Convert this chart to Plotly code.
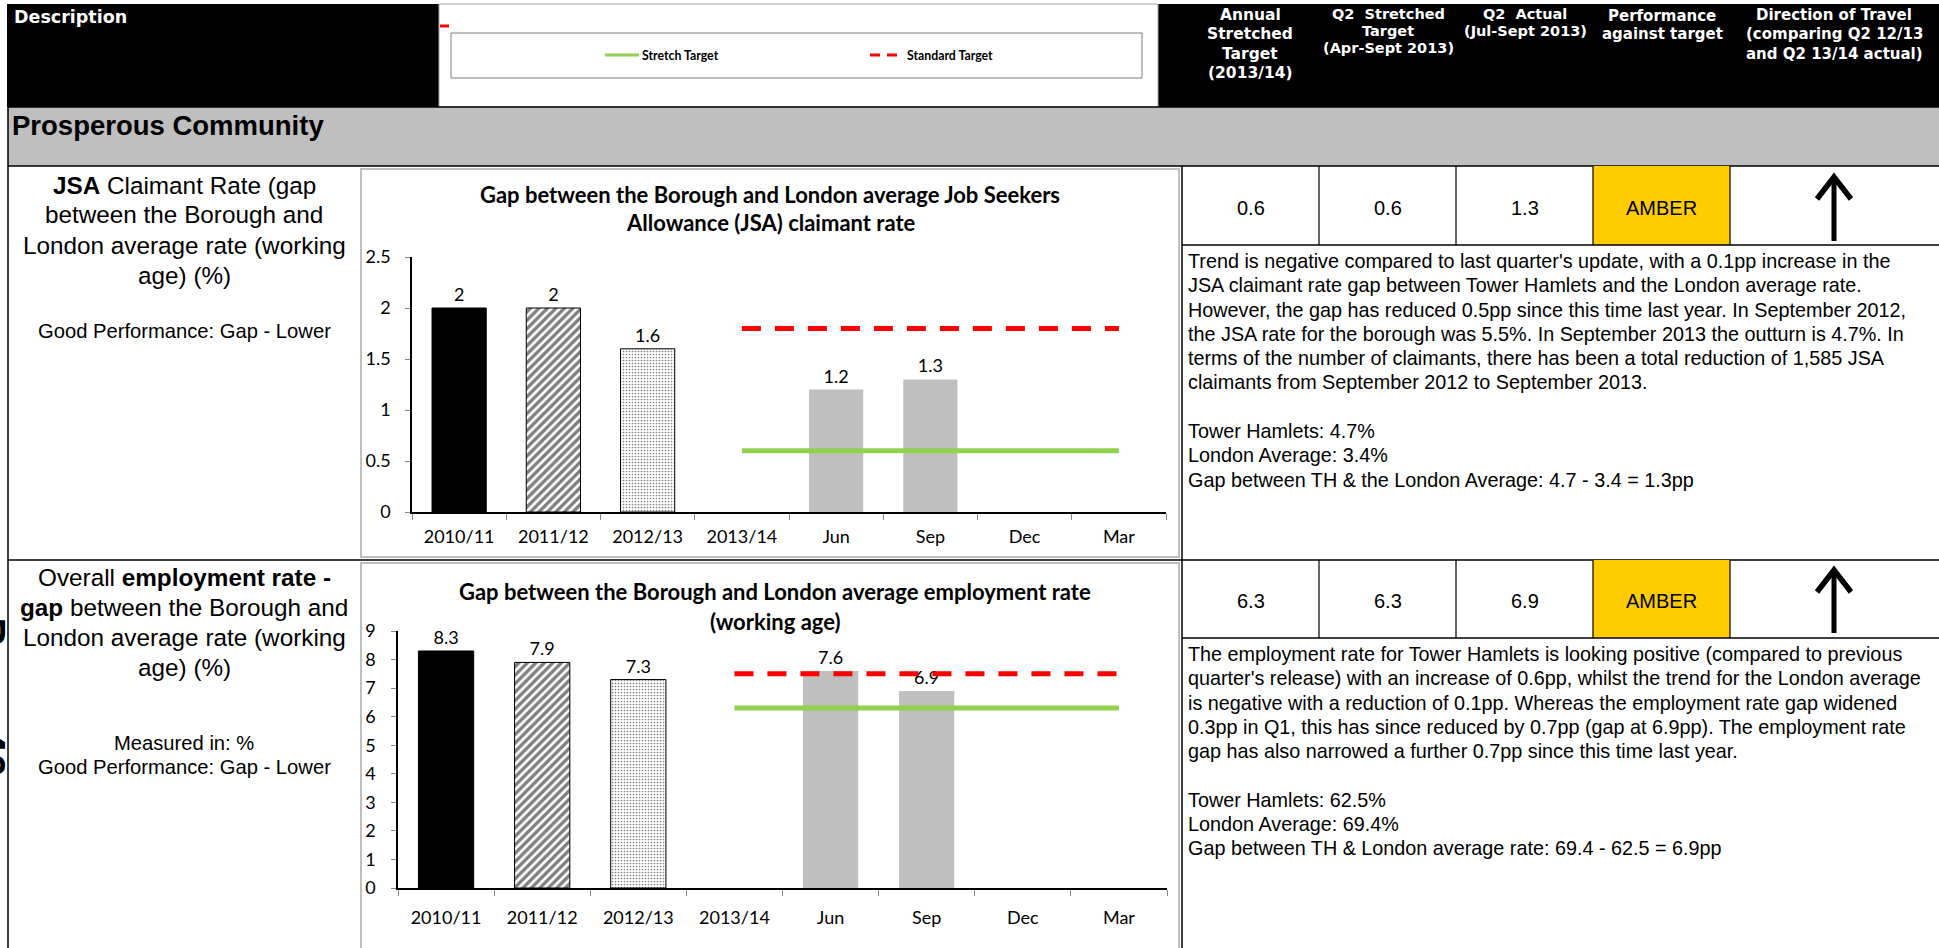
import plotly.graph_objects as go

W, H = 1939, 948

# ---------------------------------------------------------------- data
categories = ["2010/11", "2011/12", "2012/13", "2013/14", "Jun", "Sep", "Dec", "Mar"]

jsa_gap = [2, 2, 1.6, None, 1.2, 1.3, None, None]
jsa_stretch = [None, None, None, 0.6, 0.6, 0.6, 0.6, 0.6]
jsa_standard = [None, None, None, 1.8, 1.8, 1.8, 1.8, 1.8]

emp_gap = [8.3, 7.9, 7.3, None, 7.6, 6.9, None, None]
emp_stretch = [None, None, None, 6.3, 6.3, 6.3, 6.3, 6.3]
emp_standard = [None, None, None, 7.5, 7.5, 7.5, 7.5, 7.5]

jsa_title = ["Gap between the Borough and London average Job Seekers",
             "Allowance (JSA) claimant rate"]
emp_title = ["Gap between the Borough and London average employment rate",
             "(working age)"]

header_cols = [
    ["Annual", "Stretched", "Target", "(2013/14)"],
    ["Q2  Stretched", "Target", "(Apr-Sept 2013)"],
    ["Q2  Actual", "(Jul-Sept 2013)"],
    ["Performance", "against target"],
    ["Direction of Travel", "(comparing Q2 12/13", "and Q2 13/14 actual)"],
]

jsa_row = ["0.6", "0.6", "1.3", "AMBER"]
emp_row = ["6.3", "6.3", "6.9", "AMBER"]

jsa_desc = ["<b>JSA</b> Claimant Rate (gap", "between the Borough and",
            "London average rate (working", "age) (%)"]
jsa_desc_small = ["Good Performance: Gap - Lower"]
emp_desc = ["Overall <b>employment rate -</b>", "<b>gap</b> between the Borough and",
            "London average rate (working", "age) (%)"]
emp_desc_small = ["Measured in: %", "Good Performance: Gap - Lower"]

jsa_notes = [
    "Trend is negative compared to last quarter's update, with a 0.1pp increase in the",
    "JSA claimant rate gap between Tower Hamlets and the London average rate.",
    "However, the gap has reduced 0.5pp since this time last year. In September 2012,",
    "the JSA rate for the borough was 5.5%. In September 2013 the outturn is 4.7%. In",
    "terms of the number of claimants, there has been a total reduction of 1,585 JSA",
    "claimants from September 2012 to September 2013.",
    "",
    "Tower Hamlets: 4.7%",
    "London Average: 3.4%",
    "Gap between TH &amp; the London Average: 4.7 - 3.4 = 1.3pp",
]
emp_notes = [
    "The employment rate for Tower Hamlets is looking positive (compared to previous",
    "quarter's release) with an increase of 0.6pp, whilst the trend for the London average",
    "is negative with a reduction of 0.1pp. Whereas the employment rate gap widened",
    "0.3pp in Q1, this has since reduced by 0.7pp (gap at 6.9pp). The employment rate",
    "gap has also narrowed a further 0.7pp since this time last year.",
    "",
    "Tower Hamlets: 62.5%",
    "London Average: 69.4%",
    "Gap between TH &amp; London average rate: 69.4 - 62.5 = 6.9pp",
]

# ---------------------------------------------------------------- styling
ARIAL = "Liberation Sans, Arial, sans-serif"
VERDANA = "DejaVu Sans, Verdana, sans-serif"
CHART_FONT = "Lato, Calibri, sans-serif"

BLACK = "#000000"
GREY_BAND = "#BFBFBF"
AMBER = "#FFCC00"
GREEN = "#92D050"
RED = "#FF0000"

# one fill style per category: (colour, pattern shape, pattern size, solidity, outline)
SOLID_BLACK = ("#000000", "", 6, 0.3, "#000000")
HATCHED = ("#FFFFFF", "/", 6, 0.55, "#000000")
DOTTED = ("#FFFFFF", ".", 3, 0.25, "#000000")
QUARTER = ("#BFBFBF", "", 6, 0.3, None)
bar_styles = [SOLID_BLACK, HATCHED, DOTTED, QUARTER, QUARTER, QUARTER, QUARTER, QUARTER]


def X(px):
    return px / W


def Y(py):
    return 1 - py / H


shapes = []
annotations = []


def rect(x0, y0, x1, y1, fill=None, line=None, width=1):
    shapes.append(dict(type="rect", xref="paper", yref="paper",
                       x0=X(x0), x1=X(x1), y0=Y(y1), y1=Y(y0),
                       fillcolor=fill if fill else "rgba(0,0,0,0)",
                       line=dict(color=line if line else "rgba(0,0,0,0)",
                                 width=width if line else 0)))


def seg(x0, y0, x1, y1, color=BLACK, width=1.5, dash=None):
    ln = dict(color=color, width=width)
    if dash:
        ln["dash"] = dash
    shapes.append(dict(type="line", xref="paper", yref="paper",
                       x0=X(x0), x1=X(x1), y0=Y(y0), y1=Y(y1), line=ln))


def path(points, color=BLACK, width=6):
    d = "M " + " L ".join(f"{X(px):.6f},{Y(py):.6f}" for px, py in points)
    shapes.append(dict(type="path", xref="paper", yref="paper", path=d,
                       line=dict(color=color, width=width)))


def text(x, y, s, size, family=ARIAL, color=BLACK, anchor="center", bold=False, **kw):
    if bold:
        s = f"<b>{s}</b>"
    annotations.append(dict(xref="paper", yref="paper", x=X(x), y=Y(y), text=s,
                            showarrow=False, xanchor=anchor, yanchor="middle",
                            font=dict(size=size, family=family, color=color), **kw))


# ---------------------------------------------------------------- header band
rect(7, 4, 439, 107, fill=BLACK)
rect(1158, 4, W + 2, 107, fill=BLACK)
rect(439, 4, 1158, 107, fill="#FFFFFF", line="#A6A6A6", width=1)
text(12, 17, "Description", 17.5, family=VERDANA, color="#FFFFFF", anchor="left", bold=True)

# legend panel
rect(451, 33, 1142, 78, fill="#FFFFFF", line="#7F7F7F", width=1)
seg(440, 26, 449, 26, color=RED, width=3)
seg(605, 55, 639, 55, color=GREEN, width=3)
text(640, 55, "Stretch Target", 12.3, family=CHART_FONT, anchor="left", bold=True)
seg(870, 55, 880, 55, color=RED, width=3)
seg(887, 55, 897, 55, color=RED, width=3)
text(905, 55, "Standard Target", 12.3, family=CHART_FONT, anchor="left", bold=True)

# column headings
col_centers = [1250, 1388, 1525, 1662, 1834]
col_line_y = [
    [15, 34, 54, 73],
    [14, 31, 48],
    [14, 31],
    [16, 34],
    [15, 34, 54],
]
col_sizes = [15.5, 14.5, 14.5, 15, 15]
for lines, cx, ys, sz in zip(header_cols, col_centers, col_line_y, col_sizes):
    for ln, yy in zip(lines, ys):
        text(cx, yy, ln, sz, family=VERDANA, color="#FFFFFF", bold=True)

# section band
rect(8, 107, W + 2, 166, fill=GREY_BAND)
seg(8, 107, W, 107, width=1.5)
seg(8, 166, W, 166, width=1.5)
text(10, 125, "Prosperous Community", 27.5, anchor="left", bold=True)

# ---------------------------------------------------------------- table grid
seg(8, 107, 8, H + 2, width=1.5)
seg(1182, 166, 1182, H + 2, width=1.5)
seg(8, 560, W, 560, width=1.5)

col_edges = [1182, 1319, 1456, 1593, 1730, W]
for top, bot, row_vals in ((166, 245, jsa_row), (560, 638, emp_row)):
    rect(col_edges[3], top, col_edges[4], bot, fill=AMBER)
    seg(1182, bot, W, bot, width=1.5)
    for xe in col_edges[1:5]:
        seg(xe, top, xe, bot, width=1.2)
    for i, v in enumerate(row_vals):
        text((col_edges[i] + col_edges[i + 1]) / 2, (top + bot) / 2 + 2, v, 20)

# direction-of-travel arrows
for y_tip, y_base in ((175, 241), (568, 633)):
    seg(1834, y_base, 1834, y_tip + 4, width=5)
    path([(1817, y_tip + 24), (1834, y_tip + 2), (1851, y_tip + 24)], width=5.5)

# chart frames
rect(361, 169, 1179, 557, line="#BFBFBF", width=2)
rect(361, 563, 1179, H + 20, line="#BFBFBF", width=2)

# rotated page number partly off the left edge
annotations.append(dict(xref="paper", yref="paper", x=X(16), y=Y(697), text="<b>Page 46</b>",
                        textangle=90, showarrow=False, xanchor="right", yanchor="middle",
                        font=dict(size=42, family=ARIAL, color=BLACK)))

# ---------------------------------------------------------------- description column
for i, ln in enumerate(jsa_desc):
    text(184, 185 + 30 * i, ln, 24.3)
text(184, 331, jsa_desc_small[0], 20.2)
for i, ln in enumerate(emp_desc):
    text(184, 577 + 30 * i, ln, 24.3)
for i, ln in enumerate(emp_desc_small):
    text(184, 743 + 24 * i, ln, 20.2)

# ---------------------------------------------------------------- commentary
for i, ln in enumerate(jsa_notes):
    if ln:
        text(1186, 261 + 24.3 * i, ln, 19.8, anchor="left")
for i, ln in enumerate(emp_notes):
    if ln:
        text(1186, 654 + 24.3 * i, ln, 19.8, anchor="left")

# ---------------------------------------------------------------- chart titles
for i, ln in enumerate(jsa_title):
    text(770, 194 + 28 * i, ln, 22, family=CHART_FONT, bold=True)
for i, ln in enumerate(emp_title):
    text(775, 591 + 30 * i, ln, 22, family=CHART_FONT, bold=True)

# ---------------------------------------------------------------- traces
fig = go.Figure()


def add_chart(values, stretch, standard, xa, ya):
    # each period gets its own overlaid bar so that every fill pattern keeps its own settings
    for cat, val, (color, shape, psize, solid, outline) in zip(categories, values, bar_styles):
        if val is None:
            continue
        fig.add_trace(go.Bar(
            x=[cat], y=[val], xaxis=xa, yaxis=ya,
            marker=dict(color=color,
                        line=dict(color=outline or "rgba(0,0,0,0)", width=1 if outline else 0),
                        pattern=dict(shape=shape, fgcolor="#000000", bgcolor=color,
                                     size=psize, solidity=solid)),
            texttemplate="%{y}", textposition="outside", textangle=0,
            constraintext="none", cliponaxis=False,
            textfont=dict(family=CHART_FONT, size=18, color=BLACK),
            hoverinfo="skip", showlegend=False))
    fig.add_trace(go.Scatter(
        x=categories, y=stretch, xaxis=xa, yaxis=ya, mode="lines",
        line=dict(color=GREEN, width=5), hoverinfo="skip", showlegend=False))
    fig.add_trace(go.Scatter(
        x=categories, y=standard, xaxis=xa, yaxis=ya, mode="lines",
        line=dict(color=RED, width=5, dash="19px,14px"), hoverinfo="skip", showlegend=False))


add_chart(jsa_gap, jsa_stretch, jsa_standard, "x", "y")
add_chart(emp_gap, emp_stretch, emp_standard, "x2", "y2")

xcommon = dict(type="category", categoryorder="array", categoryarray=categories,
               range=[-0.5, len(categories) - 0.5],
               showline=True, linecolor=BLACK, linewidth=1.5, ticks="outside",
               tickson="boundaries", ticklen=6, tickcolor="#868686", tickwidth=1,
               tickfont=dict(family=CHART_FONT, size=18, color=BLACK),
               showgrid=False, zeroline=False, fixedrange=True, automargin=False)
ycommon = dict(showline=True, linecolor=BLACK, linewidth=1.5, ticks="outside",
               ticklen=5, tickcolor="#868686", tickwidth=1,
               tickfont=dict(family=CHART_FONT, size=18, color=BLACK),
               showgrid=False, zeroline=False, fixedrange=True, automargin=False)

fig.update_layout(
    width=W, height=H,
    margin=dict(l=0, r=0, t=0, b=0, autoexpand=False),
    paper_bgcolor="#FFFFFF", plot_bgcolor="rgba(0,0,0,0)",
    barmode="overlay", bargap=0.425, hovermode=False, showlegend=False,
    xaxis=dict(domain=[X(412), X(1166)], anchor="y", ticklabelstandoff=8, **xcommon),
    yaxis=dict(domain=[Y(512), Y(257)], anchor="x", range=[0, 2.5], dtick=0.5,
               ticklabelstandoff=11, **ycommon),
    xaxis2=dict(domain=[X(398), X(1167)], anchor="y2", ticklabelstandoff=13, **xcommon),
    yaxis2=dict(domain=[Y(888), Y(631)], anchor="x2", range=[0, 9], dtick=1,
                ticklabelstandoff=12, **ycommon),
    shapes=shapes,
    annotations=annotations,
)

# the page itself adds no margin or scrollbars around the figure
page_reset = ("document.body.style.margin='0';document.body.style.padding='0';"
              "document.documentElement.style.overflow='hidden';")
fig.write_html("out.html", post_script=page_reset)
